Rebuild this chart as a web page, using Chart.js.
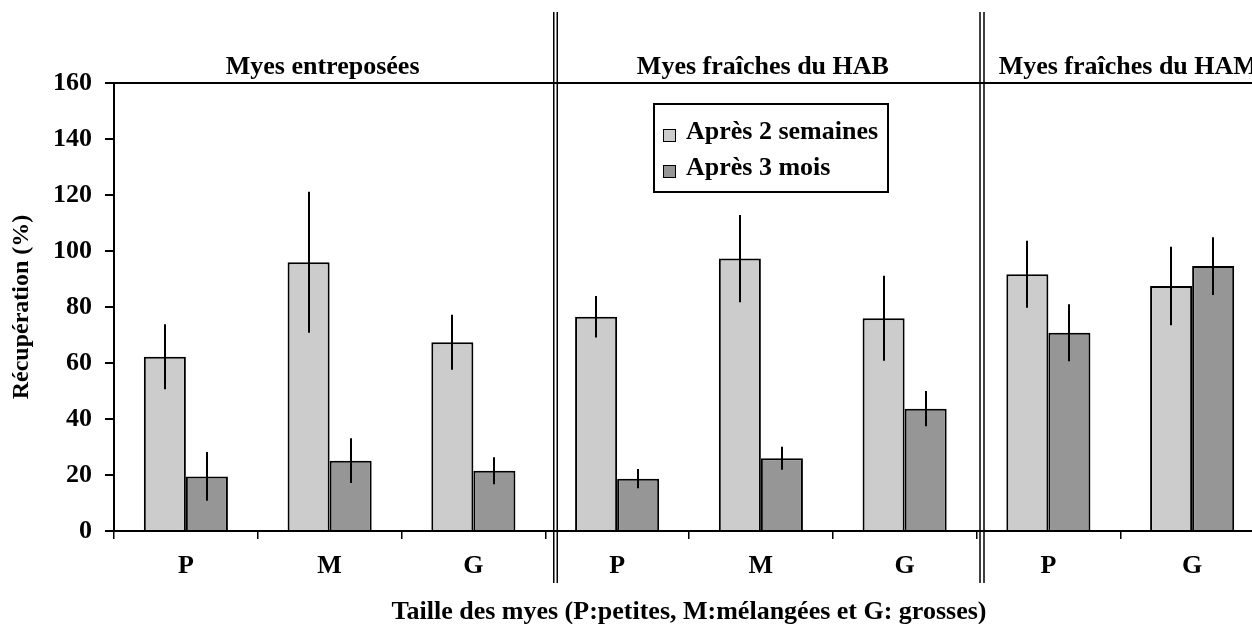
<!DOCTYPE html>
<html>
<head>
<meta charset="utf-8">
<script src="https://cdn.jsdelivr.net/npm/chart.js@4.4.1/dist/chart.umd.min.js"></script>
<style>
  html, body { margin: 0; padding: 0; background: #fff; overflow: hidden; }
  #wrap { width: 1252px; height: 624px; overflow: hidden; position: relative; }
  canvas { display: block; }
</style>
</head>
<body>
<div id="wrap"><canvas id="c" width="1266" height="624" style="width:1266px;height:624px"></canvas></div>
<script>
// ---- data ----
const categories = ["P", "M", "G", "P", "M", "G", "P", "G"];
const groupNames = ["Myes entreposées", "Myes fraîches du HAB", "Myes fraîches du HAM"];
const groupSizes = [3, 3, 2];
const seriesNames = ["Après 2 semaines", "Après 3 mois"];
const values2Weeks = [62.2, 96.0, 67.4, 76.5, 97.3, 76.0, 91.7, 87.5];
const errors2Weeks = [11.6, 25.2, 9.8, 7.4, 15.6, 15.2, 12.0, 14.0];
const values3Months = [19.5, 25.1, 21.5, 18.7, 26.0, 43.7, 70.8, 94.6];
const errors3Months = [8.7, 8.0, 4.8, 3.4, 4.1, 6.3, 10.2, 10.3];
const yTicks = [0, 20, 40, 60, 80, 100, 120, 140, 160];
const yTitle = "Récupération (%)";
const xTitle = "Taille des myes (P:petites, M:mélangées et G: grosses)";

const FONT = "'Liberation Serif', 'Times New Roman', serif";
Chart.defaults.font.family = FONT;
Chart.defaults.color = '#000';

const errorBars = {
  id: 'errorBars',
  afterDatasetsDraw(chart) {
    const ctx = chart.ctx, y = chart.scales.y;
    ctx.save();
    ctx.strokeStyle = '#000';
    ctx.lineWidth = 2;
    chart.data.datasets.forEach((ds, di) => {
      const meta = chart.getDatasetMeta(di);
      meta.data.forEach((bar, i) => {
        const v = ds.data[i], e = ds.errors[i];
        const x = Math.round(bar.x);
        ctx.beginPath();
        ctx.moveTo(x, y.getPixelForValue(v + e));
        ctx.lineTo(x, y.getPixelForValue(v - e));
        ctx.stroke();
      });
    });
    ctx.restore();
  }
};

const groupDecor = {
  id: 'groupDecor',
  afterDraw(chart) {
    const ctx = chart.ctx, x = chart.scales.x;
    const half = (x.getPixelForValue(1) - x.getPixelForValue(0)) / 2;
    ctx.save();
    // separators (double lines)
    const sepOffsets = [[8.5, 12], [3.5, 7.5]];
    let idx = 0;
    const bounds = [];
    groupSizes.forEach((n) => {
      const left = x.getPixelForValue(idx) - half;
      const right = x.getPixelForValue(idx + n - 1) + half;
      bounds.push([left, right]);
      idx += n;
    });
    ctx.strokeStyle = '#000';
    ctx.lineWidth = 1.5;
    for (let g = 0; g < groupSizes.length - 1; g++) {
      const bx = bounds[g][1];
      sepOffsets[g].forEach(o => {
        ctx.beginPath();
        ctx.moveTo(bx + o, 12);
        ctx.lineTo(bx + o, 583);
        ctx.stroke();
      });
    }
    // group titles
    const titleShift = [-7, 2, 8];
    ctx.fillStyle = '#000';
    ctx.font = "bold 26px " + FONT;
    ctx.textAlign = 'center';
    ctx.textBaseline = 'alphabetic';
    groupNames.forEach((name, g) => {
      const cx = (bounds[g][0] + bounds[g][1]) / 2 + titleShift[g];
      ctx.fillText(name, cx, 74);
    });
    // legend
    const lx = 654, ly = 104, lw = 234, lh = 88;
    ctx.fillStyle = '#fff';
    ctx.fillRect(lx, ly, lw, lh);
    ctx.lineWidth = 2;
    ctx.strokeRect(lx, ly, lw, lh);
    ctx.textAlign = 'left';
    chart.data.datasets.forEach((ds, i) => {
      const sy = 129 + i * 36;
      ctx.fillStyle = ds.backgroundColor;
      ctx.fillRect(663, sy, 13, 13);
      ctx.lineWidth = 1;
      ctx.strokeRect(663.5, sy + 0.5, 12, 12);
      ctx.fillStyle = '#000';
      ctx.fillText(ds.label, 686, sy + 10);
    });
    ctx.restore();
  }
};

new Chart(document.getElementById('c'), {
  type: 'bar',
  data: {
    labels: categories,
    datasets: [
      { label: seriesNames[0], data: values2Weeks, errors: errors2Weeks,
        backgroundColor: '#cccccc', borderColor: '#000', borderWidth: 2,
        barPercentage: 1, categoryPercentage: 0.585 },
      { label: seriesNames[1], data: values3Months, errors: errors3Months,
        backgroundColor: '#969696', borderColor: '#000', borderWidth: 2,
        barPercentage: 1, categoryPercentage: 0.585 }
    ]
  },
  options: {
    responsive: false,
    animation: false,
    events: [],
    layout: { padding: { top: 83, left: 0, right: 2, bottom: 0 } },
    plugins: { legend: { display: false }, tooltip: { enabled: false } },
    scales: {
      x: {
        offset: true,
        grid: { offset: true, drawOnChartArea: false, tickLength: 8, color: '#000', lineWidth: 1.5 },
        border: { color: '#000', width: 2 },
        ticks: { font: { size: 26, weight: 'bold', lineHeight: 1.2 }, padding: 12, color: '#000' },
        title: { display: true, text: xTitle, font: { size: 26, weight: 'bold', lineHeight: 0.9 }, padding: 0, color: '#000' },
        afterFit(s) { s.height = 93; }
      },
      y: {
        min: 0, max: 160,
        afterBuildTicks(s) { s.ticks = yTicks.map(v => ({ value: v })); },
        grid: {
          tickLength: 9, lineWidth: 2, tickColor: '#000',
          color: c => (c.tick && c.tick.value === 160) ? '#000' : 'rgba(0,0,0,0)'
        },
        border: { color: '#000', width: 2 },
        ticks: { font: { size: 26, weight: 'bold' }, padding: 13, color: '#000' },
        title: { display: true, text: yTitle, font: { size: 24, weight: 'bold', lineHeight: 1 }, padding: { top: 10 }, color: '#000' },
        afterFit(s) { s.width = 114; }
      }
    }
  },
  plugins: [errorBars, groupDecor]
});
</script>
</body>
</html>
